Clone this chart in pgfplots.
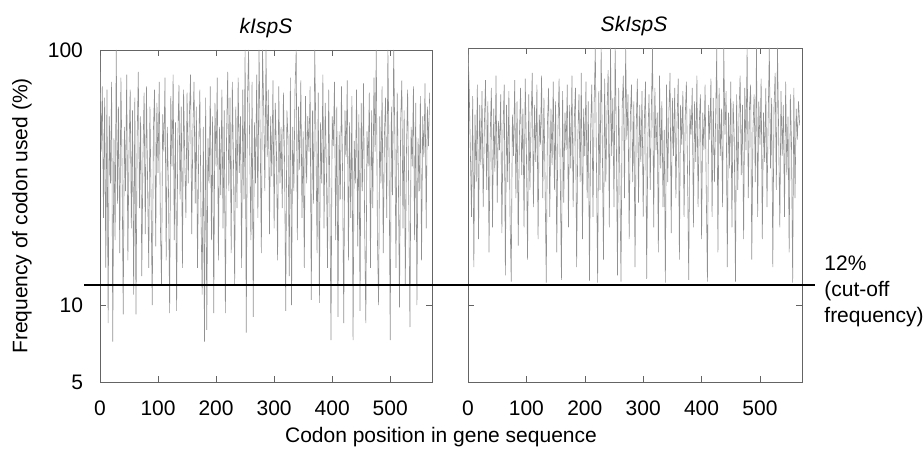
\documentclass[border=0pt]{standalone}
\usepackage{fontspec}
\setmainfont{Liberation Sans}
\usepackage{pgfplots}
\pgfplotsset{compat=1.18}

% codon usage frequency (%), every second codon position
\pgfplotstableread{
x y
0 95
2 40
4 72
6 22
8 65
10 14
12 70
14 8.5
16 55
18 30
20 75
22 7.2
24 45
26 18
28 100
30 25
32 60
34 16
36 78
38 35
40 9.2
42 50
44 28
46 80
48 15
50 40
52 70
54 20
56 58
58 11
60 65
62 9.2
64 45
66 82
68 24
70 55
72 13
74 38
76 68
78 19
80 72
82 30
84 14
86 60
88 26
90 10
92 48
94 70
96 17
98 62
100 33
102 75
104 21
106 12
108 56
110 40
112 78
114 15
116 50
118 28
120 9.3
122 66
124 35
126 80
128 18
130 52
132 9.5
134 44
136 73
138 26
140 60
142 14
144 70
146 38
148 22
150 68
152 30
154 55
156 80
158 19
160 48
162 75
164 25
166 60
168 14
170 40
172 70
174 23
176 11
178 50
180 7.2
182 65
184 8
186 45
188 30
190 72
192 18
194 55
196 9.3
198 62
200 35
202 78
204 15
206 50
208 27
210 70
212 20
214 58
216 9.3
218 45
220 82
222 28
224 65
226 16
228 75
230 36
232 12
234 60
236 24
238 78
240 33
242 55
244 14
246 70
248 26
250 100
252 7.8
254 62
256 100
258 40
260 18
262 75
264 9
266 52
268 30
270 80
272 22
274 100
276 45
278 16
280 100
282 60
284 28
286 100
288 38
290 70
292 19
294 55
296 32
298 76
300 20
302 62
304 40
306 15
308 72
310 30
312 50
314 24
316 68
318 36
320 9.5
322 58
324 45
326 13
328 78
330 10
332 50
334 28
336 70
338 100
340 18
342 60
344 34
346 76
348 22
350 48
352 14
354 66
356 30
358 55
360 40
362 72
364 10.5
366 58
368 25
370 100
372 45
374 16
376 68
378 10.2
380 52
382 30
384 80
386 20
388 62
390 35
392 14
394 70
396 28
398 7.3
400 55
402 42
404 75
406 18
408 60
410 9
412 48
414 26
416 72
418 32
420 8.5
422 58
424 38
426 76
428 15
430 52
432 22
434 66
436 7.3
438 44
440 30
442 70
444 17
446 56
448 9.5
450 62
452 28
454 74
456 20
458 8.5
460 48
462 35
464 68
466 14
468 58
470 24
472 78
474 40
476 100
478 18
480 10
482 55
484 30
486 72
488 16
490 46
492 65
494 22
496 100
498 38
500 7.3
502 60
504 27
506 100
508 45
510 14
512 68
514 33
516 9.8
518 52
520 76
522 20
524 58
526 12
528 40
530 70
532 25
534 8.2
536 50
538 35
540 72
542 18
544 62
546 10
548 45
550 28
552 66
554 15
556 55
558 38
560 74
562 20
564 60
566 42
568 68
}\dataK

\pgfplotstableread{
x y
0 100
2 70
4 40
6 22
8 65
10 14
12 55
14 30
16 72
18 18
20 60
22 35
24 68
26 24
28 50
30 75
32 28
34 62
36 16
38 45
40 70
42 20
44 58
46 33
48 78
50 25
52 52
54 40
56 66
58 19
60 48
62 72
64 13
66 60
68 30
70 68
72 22
74 12.3
76 55
78 38
80 75
82 26
84 62
86 17
88 45
90 70
92 32
94 58
96 20
98 76
100 40
102 15
104 66
106 28
108 52
110 80
112 24
114 60
116 36
118 72
120 18
122 55
124 42
126 78
128 26
130 64
132 30
134 12.2
136 50
138 70
140 22
142 58
144 35
146 74
148 28
150 62
152 16
154 48
156 76
158 32
160 12.5
162 68
164 25
166 56
168 40
170 72
172 20
174 60
176 34
178 78
180 24
182 52
184 70
186 14
188 44
190 66
192 30
194 80
196 18
198 58
200 38
202 74
204 26
206 62
208 12.4
210 48
212 72
214 22
216 60
218 100
220 35
222 12.2
224 68
226 28
228 100
230 42
232 15
234 76
236 30
238 56
240 82
242 20
244 100
246 38
248 64
250 24
252 100
254 46
256 13
258 70
260 32
262 12.3
264 58
266 78
268 26
270 100
272 44
274 66
276 18
278 54
280 72
282 30
284 62
286 14
288 48
290 76
292 25
294 60
296 36
298 68
300 22
302 52
304 74
306 12.6
308 44
310 66
312 28
314 58
316 100
318 20
320 70
322 40
324 56
326 16
328 78
330 34
332 62
334 24
336 48
338 12.2
340 72
342 30
344 56
346 80
348 19
350 64
352 38
354 70
356 26
358 52
360 76
362 15
364 60
366 42
368 68
370 22
372 54
374 74
376 32
378 12.5
380 58
382 46
384 70
386 20
388 62
390 36
392 78
394 24
396 50
398 66
400 18
402 56
404 40
406 72
408 28
410 12.3
412 60
414 44
416 76
418 22
420 64
422 30
424 52
426 100
428 16
430 70
432 38
434 58
436 24
438 100
440 46
442 68
444 14
446 56
448 34
450 74
452 20
454 62
456 44
458 12.3
460 66
462 28
464 54
466 78
468 32
470 60
472 18
474 70
476 40
478 100
480 26
482 58
484 72
486 15
488 48
490 66
492 30
494 100
496 22
498 62
500 42
502 76
504 18
506 56
508 36
510 70
512 24
514 52
516 100
518 34
520 64
522 14
524 58
526 80
528 28
530 100
532 46
534 20
536 68
538 38
540 60
542 22
544 74
546 32
548 54
550 16
552 66
554 42
556 12.2
558 70
560 26
562 58
564 44
566 62
568 50
}\dataS

\definecolor{axisgray}{RGB}{100,100,100}
\definecolor{codongray}{RGB}{145,145,145}

\begin{document}
\begin{tikzpicture}[font=\fontsize{10.5}{13}\selectfont]
\useasboundingbox (-50pt,-37pt) rectangle (412pt,191pt);

\begin{axis}[
  at={(0pt,0pt)}, anchor=south west,
  scale only axis, width=166pt, height=166pt,
  ymode=log, xmin=0, xmax=572, ymin=5, ymax=100,
  xtick={0,100,200,300,400,500},
  ytick={5,10,100}, yticklabels={5,10,100},
  yminorticks=false, xminorticks=false,
  tick align=inside, major tick length=3pt,
  axis line style={axisgray}, every tick/.append style={axisgray},
  tick label style={font=\fontsize{10.5}{12.6}\selectfont},
  xticklabel style={yshift=-6pt},
  yticklabel style={xshift=-5pt},
  /pgf/number format/assume math mode=true,
]
\addplot[codongray, line width=0.3pt] table[x=x, y=y] {\dataK};
\coordinate (cut) at (axis cs:0,12);
\end{axis}

\begin{axis}[
  at={(184pt,0pt)}, anchor=south west,
  scale only axis, width=167pt, height=167pt,
  ymode=log, xmin=0, xmax=572, ymin=5, ymax=100,
  xtick={0,100,200,300,400,500},
  ytick={5,10,100}, yticklabels={},
  yminorticks=false, xminorticks=false,
  tick align=inside, major tick length=3pt,
  axis line style={axisgray}, every tick/.append style={axisgray},
  tick label style={font=\fontsize{10.5}{12.6}\selectfont},
  xticklabel style={yshift=-6pt},
  /pgf/number format/assume math mode=true,
]
\addplot[codongray, line width=0.3pt] table[x=x, y=y] {\dataS};
\end{axis}

% cut-off line across both panels
\draw[black, line width=0.9pt] (-8pt,0 |- cut) -- (357.5pt,0 |- cut);

\node at (83pt,177pt) {\itshape kIspS};
\node at (267pt,178pt) {\itshape SkIspS};
\node[rotate=90] at (-39pt,83pt) {Frequency of codon used (\%)};
\node at (170.5pt,-27.5pt) {Codon position in gene sequence};
\node[anchor=west, align=left, inner sep=0pt] at (362pt,45.5pt) {12\%\\(cut-off\\frequency)};
\end{tikzpicture}
\end{document}
